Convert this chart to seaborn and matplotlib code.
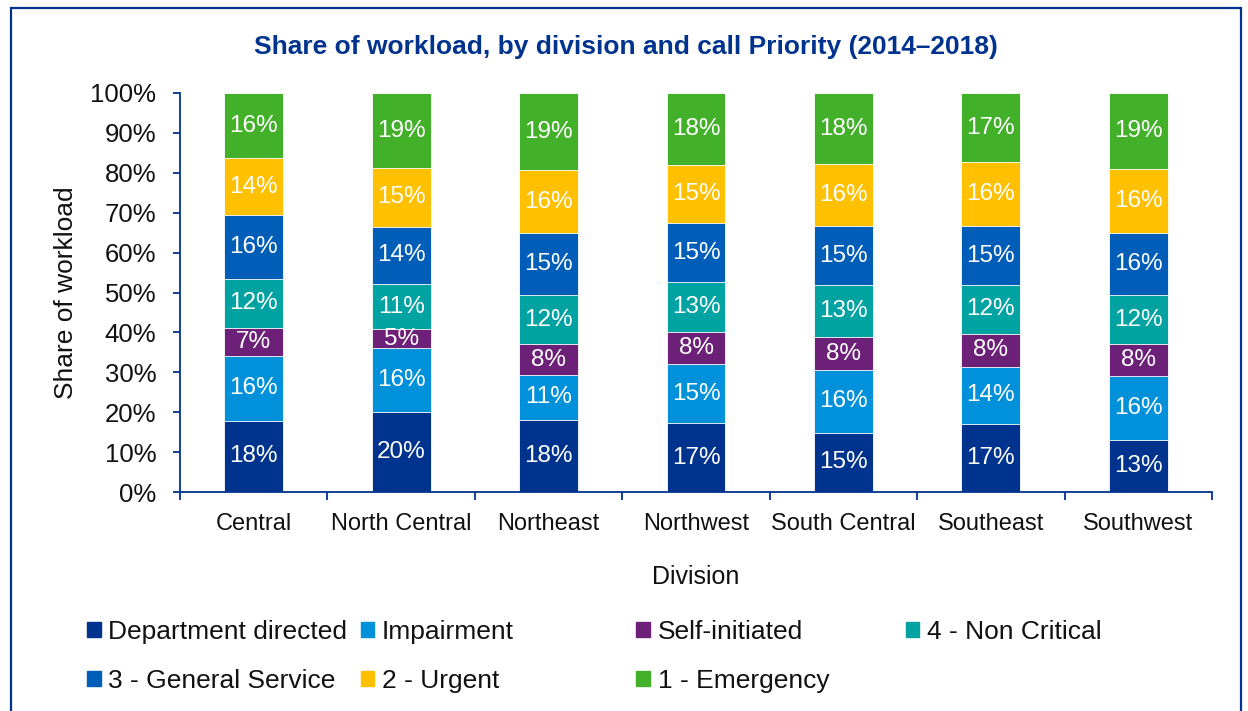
import matplotlib.pyplot as plt
import matplotlib.patches as mpatches
import seaborn as sns
import pandas as pd
import numpy as np

# Data: share of workload (%) by division and call priority
divisions = ["Central", "North Central", "Northeast", "Northwest",
             "South Central", "Southeast", "Southwest"]
categories = ["Department directed", "Impairment", "Self-initiated",
              "4 - Non Critical", "3 - General Service", "2 - Urgent",
              "1 - Emergency"]
dept_directed = [17.8, 20.1, 18.1, 17.2, 14.8, 17.0, 13.0]
impairment = [16.3, 15.9, 11.3, 14.9, 15.8, 14.4, 16.1]
self_initiated = [7.0, 4.8, 7.6, 8.0, 8.2, 8.2, 7.9]
non_critical = [12.4, 11.3, 12.4, 12.6, 13.0, 12.3, 12.4]
general_service = [15.9, 14.4, 15.4, 14.6, 14.8, 14.7, 15.6]
urgent = [14.2, 14.7, 15.8, 14.7, 15.6, 16.0, 16.0]
emergency = [16.4, 18.8, 19.4, 18.0, 17.8, 17.4, 19.0]

colors = ["#00338D", "#0091DA", "#6D2077", "#00A3A1",
          "#005EB8", "#FFC000", "#43B02A"]
navy = "#00338D"

series = [dept_directed, impairment, self_initiated, non_critical,
          general_service, urgent, emergency]
values = pd.DataFrame(np.array(series).T, index=divisions, columns=categories) / 100
cum = values.cumsum(axis=1)

sns.set_theme(style="white")
plt.rcParams['font.family'] = ['Liberation Sans', 'DejaVu Sans']

fig = plt.figure(figsize=(12.48, 7.11), dpi=100)
ax = fig.add_axes([0.1442, 0.308, 0.827, 0.5612])

# stacked bars: draw the cumulative totals from the top category down
for cat, col in reversed(list(zip(categories, colors))):
    df = pd.DataFrame({"division": divisions, "top": cum[cat].values})
    sns.barplot(data=df, x="division", y="top", color=col, width=0.4,
                errorbar=None, edgecolor="white", linewidth=0.6,
                saturation=1, ax=ax)

# segment labels
for i, div in enumerate(divisions):
    bottom = 0
    for cat in categories:
        v = values.loc[div, cat]
        ax.text(i, bottom + v / 2, f"{v * 100:.0f}%", ha="center", va="center",
                color="white", fontsize=17.5)
        bottom += v

ax.set_xlim(-0.5, len(divisions) - 0.5)
ax.set_ylim(0, 1)
ax.set_yticks(np.arange(0, 1.01, 0.1))
ax.set_yticklabels([f"{int(round(t * 100))}%" for t in np.arange(0, 1.01, 0.1)])
ax.set_xticks(np.arange(-0.5, len(divisions), 1.0), minor=True)

for side in ["top", "right"]:
    ax.spines[side].set_visible(False)
for side in ["left", "bottom"]:
    ax.spines[side].set_color(navy)
    ax.spines[side].set_linewidth(1.3)

ax.tick_params(axis="y", which="major", length=5, width=1.3, color=navy,
               direction="out", left=True, pad=12, labelsize=18.5, labelcolor="#111111")
ax.tick_params(axis="x", which="major", length=0, pad=15, labelsize=17,
               labelcolor="#111111")
ax.tick_params(axis="x", which="minor", length=6, width=1.3, color=navy,
               direction="out", bottom=True)

ax.set_xlabel("Division", fontsize=18, color="#111111", labelpad=22)
ax.set_ylabel("Share of workload", fontsize=19, color="#111111", labelpad=9)

fig.text(0.5015, 0.934, "Share of workload, by division and call Priority (2014\u20132018)",
         ha="center", va="center", fontsize=19, fontweight="bold", color=navy)

# legend: four fixed-width columns, filled row by row
col_x = [0.070, 0.289, 0.510, 0.726]
for c, x in enumerate(col_x):
    idx = [k for k in (c, c + 4) if k < len(categories)]
    handles = [mpatches.Patch(color=colors[k]) for k in idx]
    labels = [categories[k] for k in idx]
    fig.legend(handles, labels, loc="upper left", bbox_to_anchor=(x, 0.128),
               frameon=False, fontsize=19, handlelength=0.5, handleheight=0.5,
               handletextpad=0.3, labelspacing=0.95, borderaxespad=0,
               borderpad=0, labelcolor="#111111")

# outer frame
fig.patches.append(mpatches.Rectangle((0.009, -0.02), 0.985, 0.9887 + 0.02,
                                      transform=fig.transFigure, fill=False,
                                      edgecolor=navy, linewidth=1.6))

fig.savefig("out.png", dpi=100)
